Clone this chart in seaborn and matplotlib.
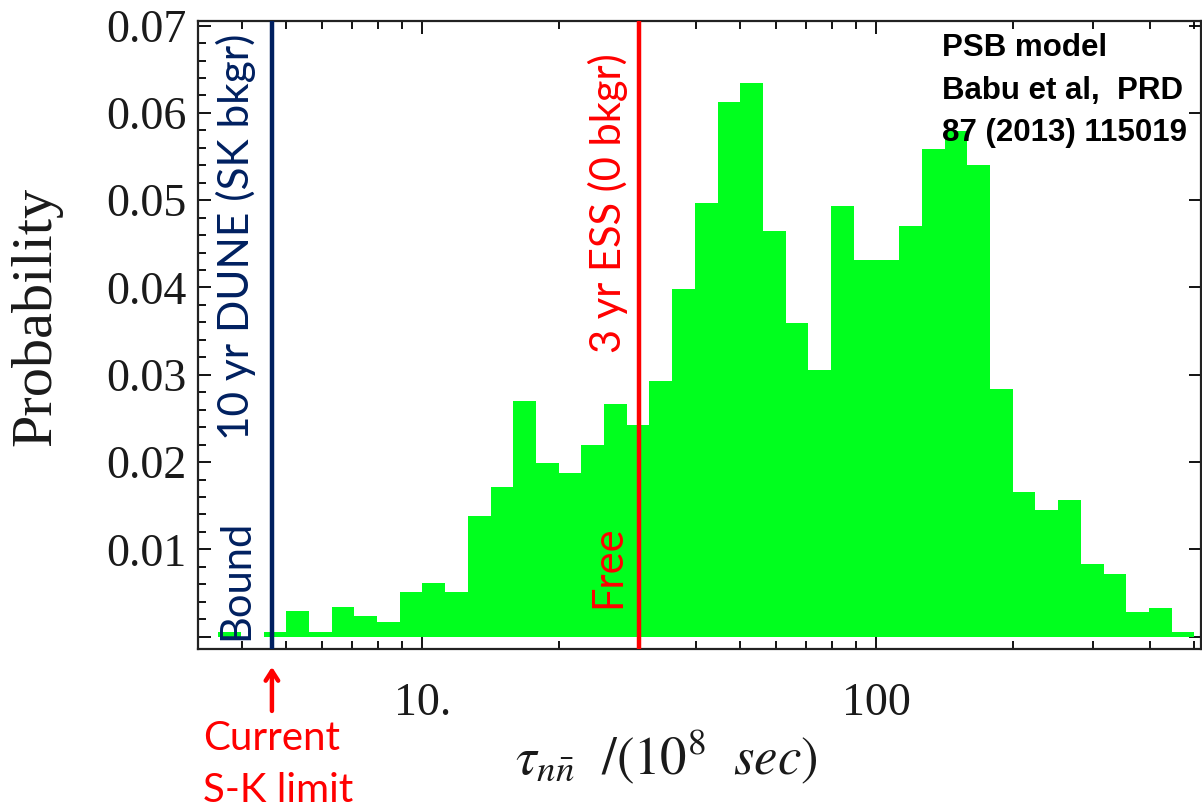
import numpy as np
import pandas as pd
import matplotlib
matplotlib.use("Agg")
import matplotlib.pyplot as plt
import matplotlib.ticker as mticker
import matplotlib.transforms as mtransforms
import seaborn as sns

# ---------------- data ----------------
log10_first_edge = 0.55      # first bin starts at 10**0.55
log10_bin_width = 0.05       # 20 bins per decade
probability = [
    0.0005, 0.0000, 0.0005, 0.0029, 0.0005, 0.0034, 0.0024, 0.0017, 0.0051,
    0.0062, 0.0051, 0.0138, 0.0172, 0.0270, 0.0199, 0.0188, 0.0220, 0.0266,
    0.0243, 0.0293, 0.0398, 0.0497, 0.0613, 0.0634, 0.0465, 0.0359, 0.0305,
    0.0493, 0.0431, 0.0431, 0.0470, 0.0559, 0.0579, 0.0540, 0.0284, 0.0166,
    0.0145, 0.0157, 0.0083, 0.0072, 0.0028, 0.0033, 0.0005,
]
sk_limit = 4.66
ess_limit = 30.0
x_major_ticks = [10, 100]
x_major_labels = ["10.", "100"]
y_major_ticks = [0.0, 0.01, 0.02, 0.03, 0.04, 0.05, 0.06, 0.07]
y_major_labels = ["", "0.01", "0.02", "0.03", "0.04", "0.05", "0.06", "0.07"]
x_limits = (3.195, 518.5)
y_limits = (-0.00141, 0.07056)

n_bins = len(probability)
edges_log = log10_first_edge + log10_bin_width * np.arange(n_bins + 1)
centers = 10 ** ((edges_log[:-1] + edges_log[1:]) / 2)
df = pd.DataFrame({"tau": centers, "p": probability})

# ---------------- style ----------------
sns.set_style("white")
plt.rcParams["mathtext.fontset"] = "stix"

W, H = 1202, 808
fig = plt.figure(figsize=(W / 100, H / 100), dpi=100)
ax = fig.add_axes([197.5 / W, 1 - 649 / H, (1201 - 197.5) / W, (649 - 20.7) / H])

green = "#00ff1e"
navy = "#002060"
red = "#ff0000"

sns.histplot(data=df, x="tau", weights="p", bins=list(edges_log), log_scale=True,
             element="step", fill=True, color=green, alpha=1, linewidth=0, ax=ax)

ax.axvline(sk_limit, color=navy, lw=3.2, zorder=5)
ax.axvline(ess_limit, color=red, lw=3.2, zorder=5)

ax.set_xlim(*x_limits)
ax.set_ylim(*y_limits)

# ticks
ax.xaxis.set_major_locator(mticker.FixedLocator(x_major_ticks))
ax.xaxis.set_major_formatter(mticker.FixedFormatter(x_major_labels))
ax.xaxis.set_minor_locator(mticker.LogLocator(base=10, subs=np.arange(2, 10)))
ax.xaxis.set_minor_formatter(mticker.NullFormatter())
ax.yaxis.set_major_locator(mticker.FixedLocator(y_major_ticks))
ax.yaxis.set_major_formatter(mticker.FixedFormatter(y_major_labels))
ax.yaxis.set_minor_locator(mticker.MultipleLocator(0.002))

ax.tick_params(which="both", direction="in", top=True, right=True, bottom=True, left=True,
               color="black", width=1.3)
ax.tick_params(which="major", length=9)
ax.tick_params(which="minor", length=6, right=False)
ax.tick_params(axis="y", which="major", pad=8)
ax.tick_params(axis="x", which="major", pad=24)
for lab in ax.get_xticklabels() + ax.get_yticklabels():
    lab.set_fontfamily("Liberation Serif")
    lab.set_fontsize(33)
    lab.set_color("#1a1a1a")

for s in ax.spines.values():
    s.set_visible(True)
    s.set_color("#222222")
    s.set_linewidth(1.6)

# labels
ax.set_ylabel("Probability", fontfamily="Liberation Serif", fontsize=42, color="#1a1a1a")
ax.yaxis.set_label_coords(-0.135, 0.53)
ax.set_xlabel(r"$\tau_{n\bar{n}}\ \ /(10^8\ \ sec)$", fontsize=38, color="#1a1a1a")
ax.xaxis.set_label_coords(0.467, -0.172)
ax.xaxis.label.set_va("center")

# annotations inside
bt = mtransforms.blended_transform_factory(ax.transData, ax.transAxes)
ax.text(3.88, 0.0225, "10 yr DUNE (SK bkgr)", rotation=90, ha="center", va="bottom",
        color=navy, fontsize=30.5, fontfamily="Lato", zorder=6)
ax.text(3.88, -0.0004, "Bound", rotation=90, ha="center", va="bottom",
        color=navy, fontsize=30, fontfamily="Lato", zorder=6)
ax.text(25.6, 0.0325, "3 yr ESS (0 bkgr)", rotation=90, ha="center", va="bottom",
        color=red, fontsize=30, fontfamily="Lato", zorder=6)
ax.text(25.6, 0.0033, "Free", rotation=90, ha="center", va="bottom",
        color=red, fontsize=30, fontfamily="Lato", zorder=6)

fig.text(942 / W, 1 - 33 / H, "PSB model\nBabu et al,  PRD\n87 (2013) 115019",
         ha="left", va="top", fontsize=22.5, fontweight="bold",
         fontfamily="Liberation Sans", color="black", linespacing=1.55)

# arrow + S-K limit text
ax.annotate("", xy=(sk_limit, -0.024), xytext=(sk_limit, -0.103),
            xycoords=bt, textcoords=bt,
            arrowprops=dict(arrowstyle="->,head_length=0.7,head_width=0.45",
                            color=red, lw=3.2), annotation_clip=False)
fig.text(203 / W, 1 - 738 / H, "Current", ha="left", va="center",
         fontsize=29, fontfamily="Lato", color=red)
fig.text(203 / W, 1 - 790 / H, "S-K limit", ha="left", va="center",
         fontsize=29, fontfamily="Lato", color=red)

fig.savefig("out.png", dpi=100, facecolor="white")
